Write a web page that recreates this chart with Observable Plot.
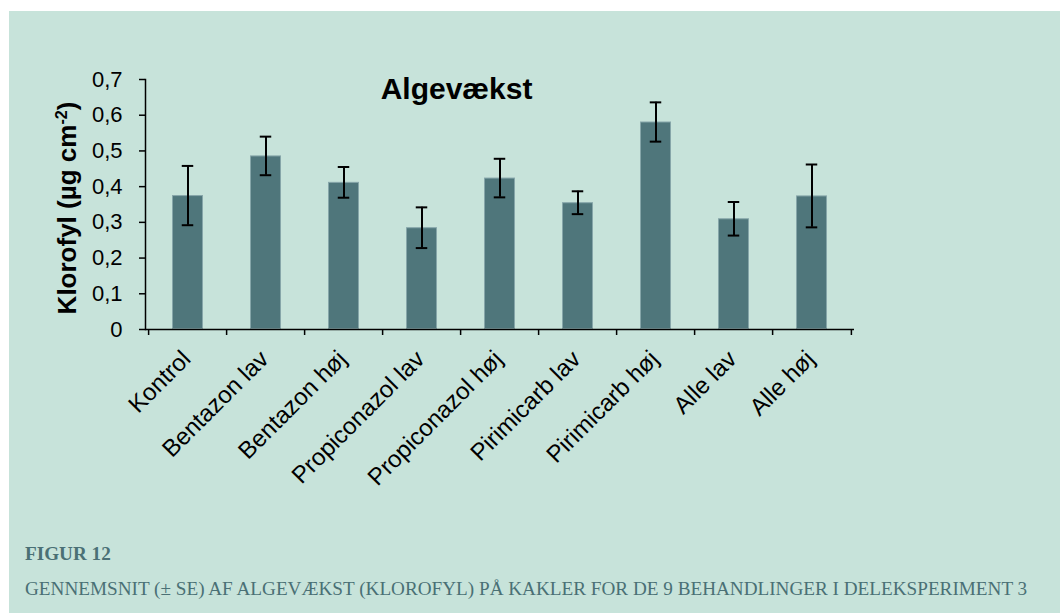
<!DOCTYPE html>
<html><head><meta charset="utf-8">
<script src="https://cdn.jsdelivr.net/npm/d3@7"></script>
<script src="https://cdn.jsdelivr.net/npm/@observablehq/plot@0.6"></script>
<style>
html,body{margin:0;padding:0;background:#fff;}
#wrap{position:absolute;left:9px;top:11px;width:1051px;height:602px;background:#c7e3da;overflow:hidden;}
#chart{position:absolute;left:0;top:0;}
.cap{position:absolute;left:16px;font-family:"Liberation Serif","Times New Roman",serif;color:#4a7075;white-space:nowrap;line-height:1;}
</style></head><body>
<div id="wrap"><div id="chart"></div>
<div class="cap" id="cap1"></div><div class="cap" id="cap2"></div></div>
<script>
const categories = ["Kontrol","Bentazon lav","Bentazon høj","Propiconazol lav","Propiconazol høj","Pirimicarb lav","Pirimicarb høj","Alle lav","Alle høj"];
const means  = [0.375, 0.486, 0.412, 0.285, 0.424, 0.355, 0.581, 0.310, 0.374];
const errors = [0.083, 0.054, 0.043, 0.057, 0.054, 0.032, 0.055, 0.047, 0.088];
const yTicks = [0, 0.1, 0.2, 0.3, 0.4, 0.5, 0.6, 0.7];
const titleText = "Algevækst";
const yLabelMain = "Klorofyl (µg cm";
const yLabelSup = "-2";
const yLabelEnd = ")";
const captionHead = "FIGUR 12";
const captionText = "GENNEMSNIT (± SE) AF ALGEVÆKST (KLOROFYL) PÅ KAKLER FOR DE 9 BEHANDLINGER I DELEKSPERIMENT 3";

const rows = categories.map((c, i) => ({cat: c, mean: means[i], lo: means[i] - errors[i], hi: means[i] + errors[i]}));

const W = 1051, H = 510, mL = 136, mR = 206, mT = 68, mB = 192;
const pInner = 0.6;
const step = (W - mL - mR) / categories.length;
const bw = step * (1 - pInner);
const capW = 12;
const capInset = (bw - capW) / 2;
const yLabelFull = yLabelMain + yLabelSup + yLabelEnd;
const fmt = d => d === 0 ? "0" : d.toFixed(1).replace(".", ",");

const chart = Plot.plot({
  width: W, height: H,
  marginLeft: mL, marginRight: mR, marginTop: mT, marginBottom: mB,
  style: {background: "transparent", fontFamily: "'Liberation Sans', Arial, sans-serif", color: "#000", overflow: "visible"},
  x: {domain: categories, paddingInner: pInner, paddingOuter: pInner / 2, axis: null},
  y: {domain: [0, 0.7], axis: null},
  marks: [
    Plot.barY(rows, {x: "cat", y: "mean", fill: "#4f767b", stroke: "#86a6a9", strokeWidth: 1, inset: 0.5}),
    Plot.ruleX(rows, {x: "cat", y1: "lo", y2: "hi", stroke: "#000", strokeWidth: 2}),
    Plot.tickY(rows, {x: "cat", y: "lo", stroke: "#000", strokeWidth: 2, insetLeft: capInset, insetRight: capInset}),
    Plot.tickY(rows, {x: "cat", y: "hi", stroke: "#000", strokeWidth: 2, insetLeft: capInset, insetRight: capInset}),
    Plot.ruleY([0], {stroke: "#000", strokeWidth: 1.5}),
    Plot.frame({anchor: "left", stroke: "#000", strokeWidth: 1.5}),
    Plot.ruleX(categories, {x: d => d, y1: 0, y2: 0, insetBottom: -6, dx: -step / 2, stroke: "#000", strokeWidth: 1.5}),
    Plot.ruleX(categories.slice(-1), {x: d => d, y1: 0, y2: 0, insetBottom: -6, dx: step / 2, stroke: "#000", strokeWidth: 1.5}),
    Plot.axisY({ticks: yTicks, tickSize: 6, tickPadding: 17, tickFormat: fmt, fontSize: 22, stroke: "#000", strokeWidth: 1.5, label: null}),
    Plot.text(categories, {x: d => d, frameAnchor: "bottom", rotate: -45, textAnchor: "end", lineAnchor: "bottom", dx: 4, dy: 31, fontSize: 24, fill: "#000"}),
    Plot.text([titleText], {frameAnchor: "top", dx: -43.5, dy: -2.3, lineAnchor: "top", fontSize: 30, fontWeight: "bold", fill: "#000"}),
    Plot.text([yLabelFull], {frameAnchor: "left", rotate: -90, textAnchor: "middle", lineAnchor: "bottom", dx: -70, dy: 3.5, fontSize: 26, fontWeight: "bold", fill: "#000"})
  ]
});
document.getElementById("chart").appendChild(chart);

// superscript in y label
const svgEl = chart.tagName.toLowerCase() === "svg" ? chart : chart.querySelector("svg");
d3.select(svgEl).selectAll("text").each(function() {
  if (this.textContent === yLabelFull) {
    const t = d3.select(this);
    t.text(null);
    t.append("tspan").text(yLabelMain);
    t.append("tspan").attr("baseline-shift", "super").attr("font-size", "0.62em").text(yLabelSup);
    t.append("tspan").text(yLabelEnd);
  }
});

// caption
const cvs = document.createElement("canvas").getContext("2d");
cvs.font = "19px 'Liberation Serif'";
const w19 = cvs.measureText(captionText).width;
const fs = 19 * 1006 / w19;
const c1 = document.getElementById("cap1"), c2 = document.getElementById("cap2");
c1.textContent = captionHead; c1.style.fontWeight = "bold";
c2.textContent = captionText;
[c1, c2].forEach(c => c.style.fontSize = fs + "px");
c1.style.top = (549 - 0.8375 * fs) + "px";
c2.style.top = (584 - 0.8375 * fs) + "px";
</script>
</body></html>
